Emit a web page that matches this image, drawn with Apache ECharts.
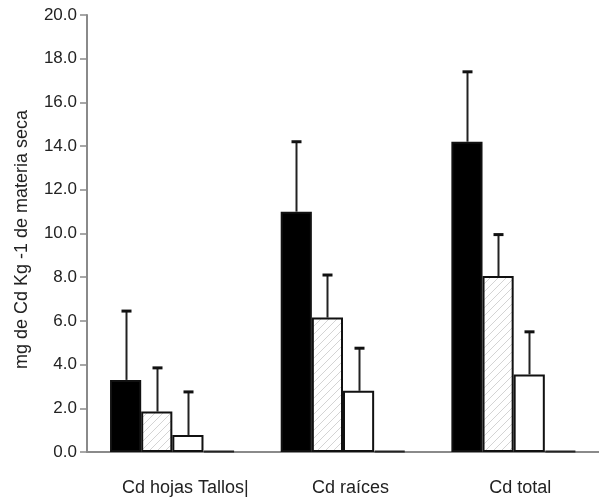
<!DOCTYPE html>
<html>
<head>
<meta charset="utf-8">
<script src="https://cdn.jsdelivr.net/npm/echarts@6/dist/echarts.min.js"></script>
<style>html,body{margin:0;padding:0;background:#fff;}#c{width:599px;height:502px;}</style>
</head>
<body>
<div id="c"></div>
<script>
var categories = ['Cd hojas Tallos|', 'Cd raíces', 'Cd total'];
var yTicks = [0, 2, 4, 6, 8, 10, 12, 14, 16, 18, 20];
var s1 = [3.3, 11.0, 14.2];
var s1Sd = [3.15, 3.2, 3.2];
var s2 = [1.85, 6.15, 8.05];
var s2Sd = [2.0, 1.95, 1.9];
var s3 = [0.78, 2.8, 3.55];
var s3Sd = [1.97, 1.95, 1.95];
var s4 = [0.05, 0.05, 0.05];

var CAT_GAP = 0.27;
var NS = 4;
var FONT = 'Liberation Sans, Arial, sans-serif';
var labelPadLeft = [26, 15, 13];

function hatch() {
  var c = document.createElement('canvas');
  c.width = 8; c.height = 8;
  var g = c.getContext('2d');
  g.fillStyle = '#fff'; g.fillRect(0, 0, 8, 8);
  g.strokeStyle = '#d4d4d4'; g.lineWidth = 1;
  g.beginPath();
  g.moveTo(0, 8); g.lineTo(8, 0);
  g.moveTo(-4, 4); g.lineTo(4, -4);
  g.moveTo(4, 12); g.lineTo(12, 4);
  g.stroke();
  return c;
}

function errSeries(vals, sds, idx) {
  var data = vals.map(function (v, i) { return [i, v, v + sds[i]]; });
  return {
    type: 'custom',
    z: 5,
    data: data,
    renderItem: function (params, api) {
      var ci = api.value(0);
      var lo = api.coord([ci, api.value(1)]);
      var hi = api.coord([ci, api.value(2)]);
      var band = api.size([1, 0])[0];
      var bw = band * (1 - CAT_GAP) / NS;
      var x = lo[0] - band * (1 - CAT_GAP) / 2 + (idx + 0.5) * bw;
      x = Math.round(x) + 0.5;
      return {
        type: 'group',
        children: [
          { type: 'line', shape: { x1: x, y1: lo[1], x2: x, y2: hi[1] }, style: { stroke: '#222', lineWidth: 2 } },
          { type: 'line', shape: { x1: x - 5, y1: hi[1], x2: x + 5, y2: hi[1] }, style: { stroke: '#111', lineWidth: 3 } }
        ]
      };
    }
  };
}

var catData = categories.map(function (c, i) {
  return { value: c, textStyle: { padding: [0, 0, 0, labelPadLeft[i]] } };
});

var chart = echarts.init(document.getElementById('c'));
var border = { borderColor: '#111', borderWidth: 2 };
chart.setOption({
  animation: false,
  backgroundColor: '#fff',
  grid: { left: 87, right: 0, top: 15, bottom: 50 },
  xAxis: {
    type: 'category',
    data: catData,
    axisLine: { lineStyle: { color: '#8a8a8a', width: 2 } },
    axisTick: { show: false },
    axisLabel: { color: '#222', fontSize: 18, fontFamily: FONT, margin: 27 }
  },
  yAxis: {
    type: 'value',
    min: yTicks[0],
    max: yTicks[yTicks.length - 1],
    interval: 2,
    name: 'mg de Cd Kg -1 de materia seca',
    nameLocation: 'middle',
    nameGap: 56,
    nameTextStyle: { color: '#222', fontSize: 18, fontFamily: FONT, padding: [0, 12, 0, 0] },
    splitLine: { show: false },
    axisLine: { show: true, lineStyle: { color: '#8a8a8a', width: 2 } },
    axisTick: { show: true, length: 7, lineStyle: { color: '#8a8a8a', width: 1.5 } },
    axisLabel: { color: '#222', fontSize: 17, fontFamily: FONT, margin: 10,
      formatter: function (v) { return v.toFixed(1); } }
  },
  series: [
    { type: 'bar', data: s1, barGap: '0%', barCategoryGap: (CAT_GAP * 100) + '%', itemStyle: Object.assign({ color: '#000' }, border) },
    { type: 'bar', data: s2, itemStyle: Object.assign({ color: { image: hatch(), repeat: 'repeat' } }, border) },
    { type: 'bar', data: s3, itemStyle: Object.assign({ color: '#fff' }, border) },
    { type: 'bar', data: s4, itemStyle: Object.assign({ color: '#fff' }, { borderColor: '#222', borderWidth: 2 }) },
    errSeries(s1, s1Sd, 0),
    errSeries(s2, s2Sd, 1),
    errSeries(s3, s3Sd, 2)
  ]
});
</script>
</body>
</html>
